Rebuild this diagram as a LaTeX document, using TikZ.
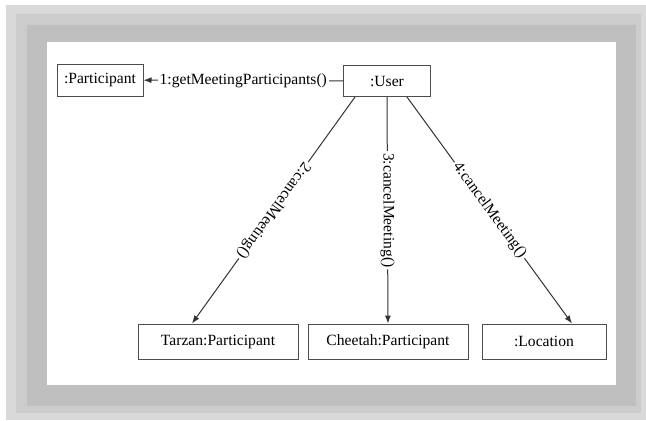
\documentclass[tikz,border=0pt]{standalone}
\usepackage{fontspec}
\setmainfont{Liberation Serif}
\usetikzlibrary{positioning,arrows.meta}

\begin{document}
\begin{tikzpicture}[
x=0.5pt, y=-0.5pt,
obj/.style={draw=black!70, line width=0.5pt, font=\fontsize{7.8}{9}\selectfont, minimum height=17.5pt, inner sep=0pt},
msg/.style={-{Latex[length=4pt,width=3pt]}, line width=0.5pt, draw=black!80},
lbl/.style={fill=white, font=\fontsize{7.8}{9}\selectfont, inner sep=1pt}
]
\useasboundingbox (0,0) rectangle (646,420);
% grey frame
\fill[white] (0,0) rectangle (646,420);
\fill[black!15] (6,5) rectangle (646,420);
\fill[black!20] (16,14) rectangle (641,413);
\fill[black!25] (27,25) rectangle (636,406);
\fill[white] (47,42) rectangle (616,385);

\node[obj, minimum width=43pt, minimum height=16pt] (part) at (100,80) {:Participant};
\node[obj, minimum width=43.5pt, minimum height=15.5pt] (user) at (387,81) {:User};
\node[obj, minimum width=80pt] (tarzan) at (218,341.5) {Tarzan:Participant};
\node[obj, minimum width=80pt] (cheetah) at (388,341.5) {Cheetah:Participant};
\node[obj, minimum width=62pt] (loc) at (544,341.5) {:Location};

\draw[msg] (user) -- node[lbl] {1:getMeetingParticipants()} (part);
\draw[msg] ([xshift=-16pt]user.south) -- node[lbl, sloped, allow upside down] {2:cancelMeeting()} ([xshift=-13pt]tarzan.north);
\draw[msg] (user) -- node[lbl, sloped, allow upside down] {3:cancelMeeting()} (cheetah);
\draw[msg] ([xshift=10pt]user.south) -- node[lbl, sloped, allow upside down] {4:cancelMeeting()} ([xshift=14pt]loc.north);
\end{tikzpicture}
\end{document}
